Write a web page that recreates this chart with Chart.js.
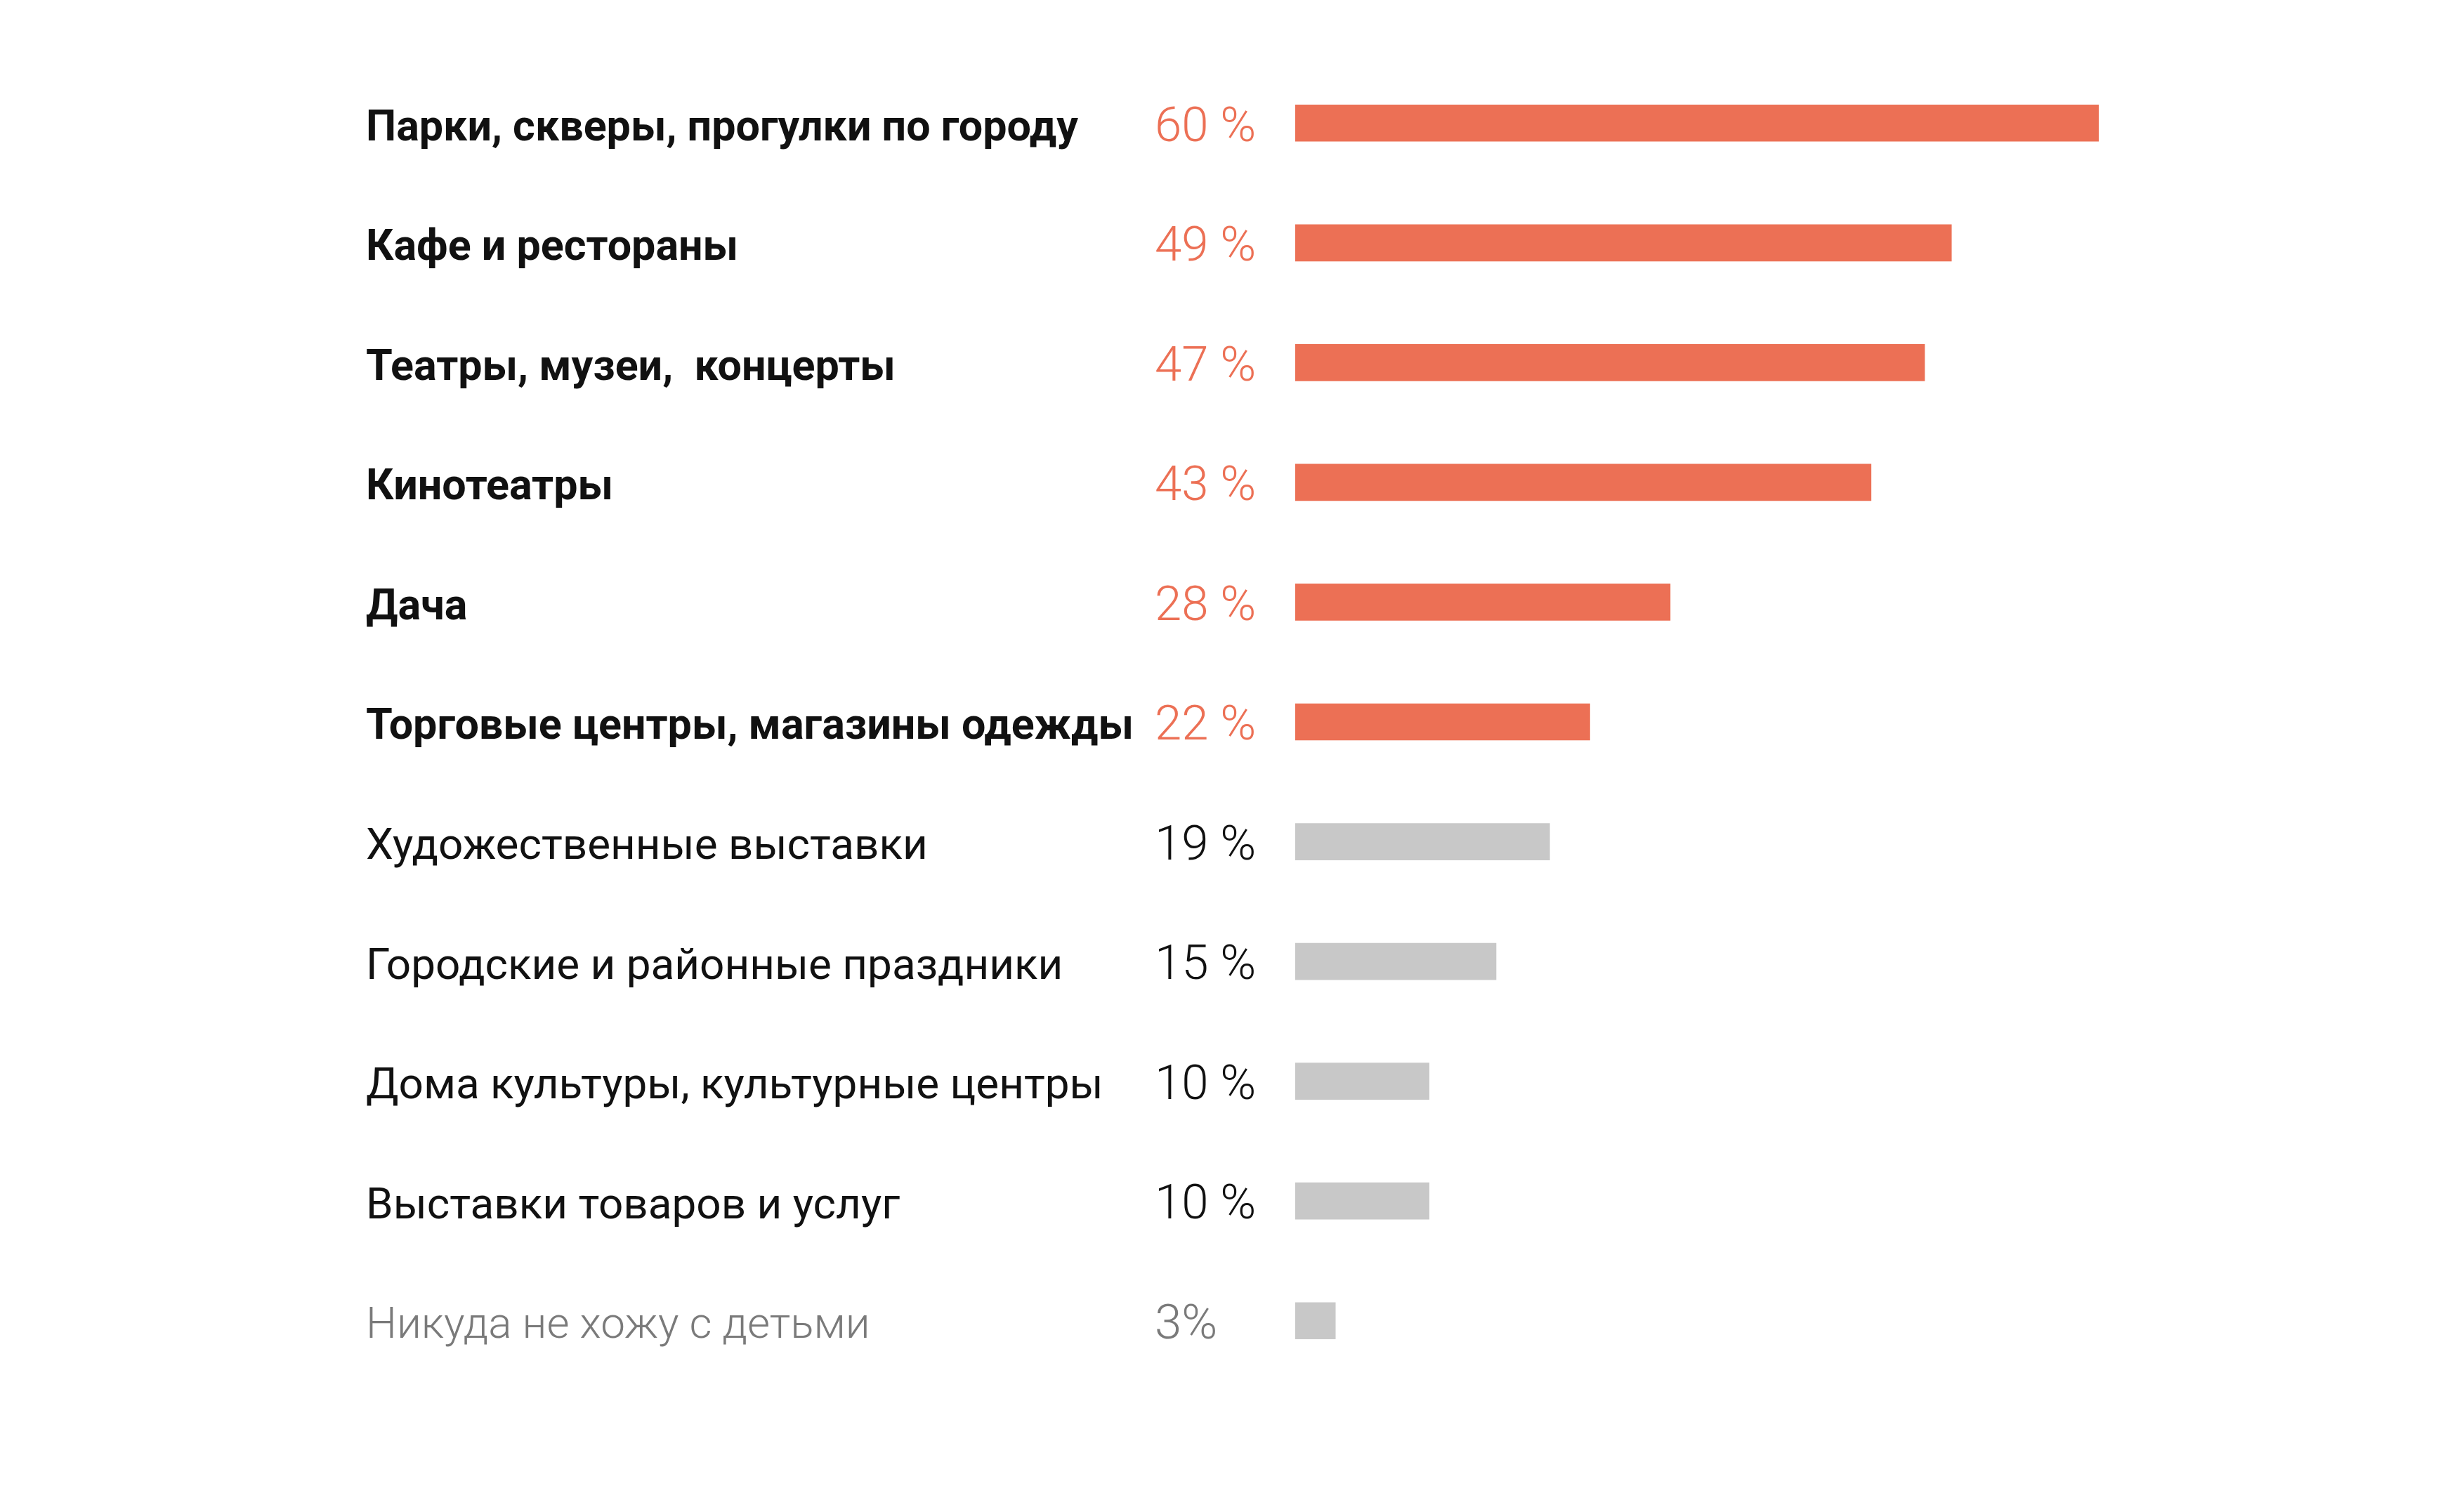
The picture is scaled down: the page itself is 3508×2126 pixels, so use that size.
<!DOCTYPE html>
<html>
<head>
<meta charset="utf-8">
<script src="https://cdn.jsdelivr.net/npm/chart.js@4"></script>
<style>
  html, body { margin: 0; padding: 0; background: #fff; }
  #wrap { width: 3508px; height: 2126px; }
</style>
</head>
<body>
<div id="wrap"><canvas id="barChart"></canvas></div>
<script>
var categories = [
    'Парки, скверы, прогулки по городу',
    'Кафе и рестораны',
    'Театры, музеи,  концерты',
    'Кинотеатры',
    'Дача',
    'Торговые центры, магазины одежды',
    'Художественные выставки',
    'Городские и районные праздники',
    'Дома культуры, культурные центры',
    'Выставки товаров и услуг',
    'Никуда не хожу с детьми'
];
var values = [60, 49, 47, 43, 28, 22, 19, 15, 10, 10, 3];
var valueLabels = ['60 %', '49 %', '47 %', '43 %', '28 %', '22 %', '19 %', '15 %', '10 %', '10 %', '3%'];
// 0 = bold / orange, 1 = regular / grey bar, 2 = light / grey text
var rowStyle = [0, 0, 0, 0, 0, 0, 1, 1, 1, 1, 2];

var ORANGE = '#ec7055';
var GREY_BAR = '#c8c8c8';
var FONT = 'Roboto, "Noto Sans", sans-serif';

function rowFont(i) {
    if (rowStyle[i] === 0) return { family: FONT, size: 61, weight: 'bold' };
    return { family: FONT, size: 62, weight: rowStyle[i] === 1 ? '400' : '300' };
}
function labelColor(i) {
    return rowStyle[i] === 2 ? '#7a7a7a' : '#111';
}
function valueColor(i) {
    if (rowStyle[i] === 0) return ORANGE;
    return rowStyle[i] === 2 ? '#7a7a7a' : '#111';
}

// percent labels drawn between the names and the bars
var valueLabelPlugin = {
    id: 'valueLabels',
    afterDatasetsDraw: function (chart) {
        var ctx = chart.ctx;
        var meta = chart.getDatasetMeta(0);
        ctx.save();
        ctx.textAlign = 'left';
        ctx.textBaseline = 'middle';
        meta.data.forEach(function (bar, i) {
            ctx.font = '300 69px ' + FONT;
            ctx.fillStyle = valueColor(i);
            ctx.fillText(valueLabels[i], chart.chartArea.left - 200, bar.y + 8);
        });
        ctx.restore();
    }
};

var ctx = document.getElementById('barChart').getContext('2d');
var chart = new Chart(ctx, {
    type: 'bar',
    data: {
        labels: categories,
        datasets: [{
            data: values,
            backgroundColor: rowStyle.map(function (s) { return s === 0 ? ORANGE : GREY_BAR; }),
            borderWidth: 0,
            barThickness: 52
        }]
    },
    options: {
        indexAxis: 'y',
        responsive: true,
        maintainAspectRatio: false,
        animation: false,
        layout: {
            padding: { left: 521, right: 520, top: 90, bottom: 160 }
        },
        plugins: {
            legend: { display: false },
            tooltip: { enabled: false }
        },
        scales: {
            x: {
                min: 0,
                max: 60,
                display: false,
                grid: { display: false }
            },
            y: {
                grid: { display: false },
                border: { display: false },
                afterFit: function (scale) { scale.width = 1844 - 521; },
                ticks: {
                    crossAlign: 'far',
                    padding: 0,
                    labelOffset: 9,
                    font: function (c) { return rowFont(c.index); },
                    color: function (c) { return labelColor(c.index); }
                }
            }
        }
    },
    plugins: [valueLabelPlugin]
});
</script>
</body>
</html>
